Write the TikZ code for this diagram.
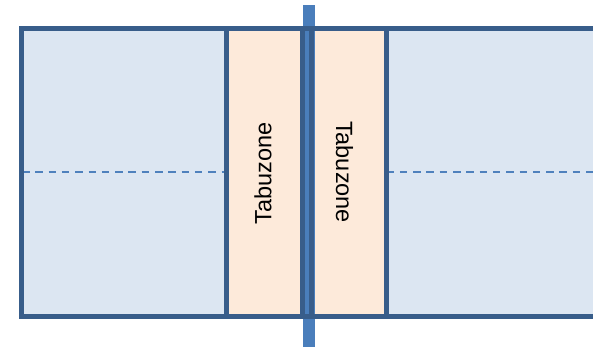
\documentclass[tikz,border=0pt]{standalone}
\usepackage{fontspec}
\setmainfont{Liberation Sans}
\definecolor{zonefill}{HTML}{DCE6F2}
\definecolor{tabufill}{HTML}{FDEADA}
\definecolor{frame}{HTML}{385D8A}
\definecolor{bar}{HTML}{4A7EBB}
\definecolor{dash}{HTML}{4F81BD}
\tikzset{
  frameline/.style={draw=frame, line width=5pt, line cap=rect},
  midline/.style={draw=dash, line width=1.8pt, dash pattern=on 7.5pt off 5.8pt},
  tabutext/.style={inner sep=0pt, font=\fontsize{23.5}{28}\selectfont}
}
\begin{document}
\begin{tikzpicture}[x=1pt,y=-1pt]
\useasboundingbox (0,0) rectangle (593,346);
% fills
\fill[zonefill] (21.5,28.5) rectangle (226.5,316);
\fill[zonefill] (386.5,28.5) rectangle (600,316);
\fill[tabufill] (226.5,28.5) rectangle (302.5,316);
\fill[tabufill] (311.5,28.5) rectangle (386.5,316);
% central bar
\fill[bar] (303,5) rectangle (315,350);
% dashed middle lines
\draw[midline] (22,172) -- (226.5,172);
\draw[midline] (386.5,172) -- (600,172);
% frame lines
\draw[frameline, line join=miter] (600,316) -- (21.5,316) -- (21.5,28.5) -- (600,28.5);
\draw[frameline] (226.5,28.5) -- (226.5,316);
\draw[frameline] (302.5,28.5) -- (302.5,316);
\draw[frameline] (311.5,28.5) -- (311.5,316);
\draw[frameline] (386.5,28.5) -- (386.5,316);
% labels
\node[tabutext, rotate=90] (tabuL) at (263,173.5) {Tabuzone};
\node[tabutext, rotate=-90] (tabuR) at (344.5,172) {Tabuzone};
\end{tikzpicture}
\end{document}
